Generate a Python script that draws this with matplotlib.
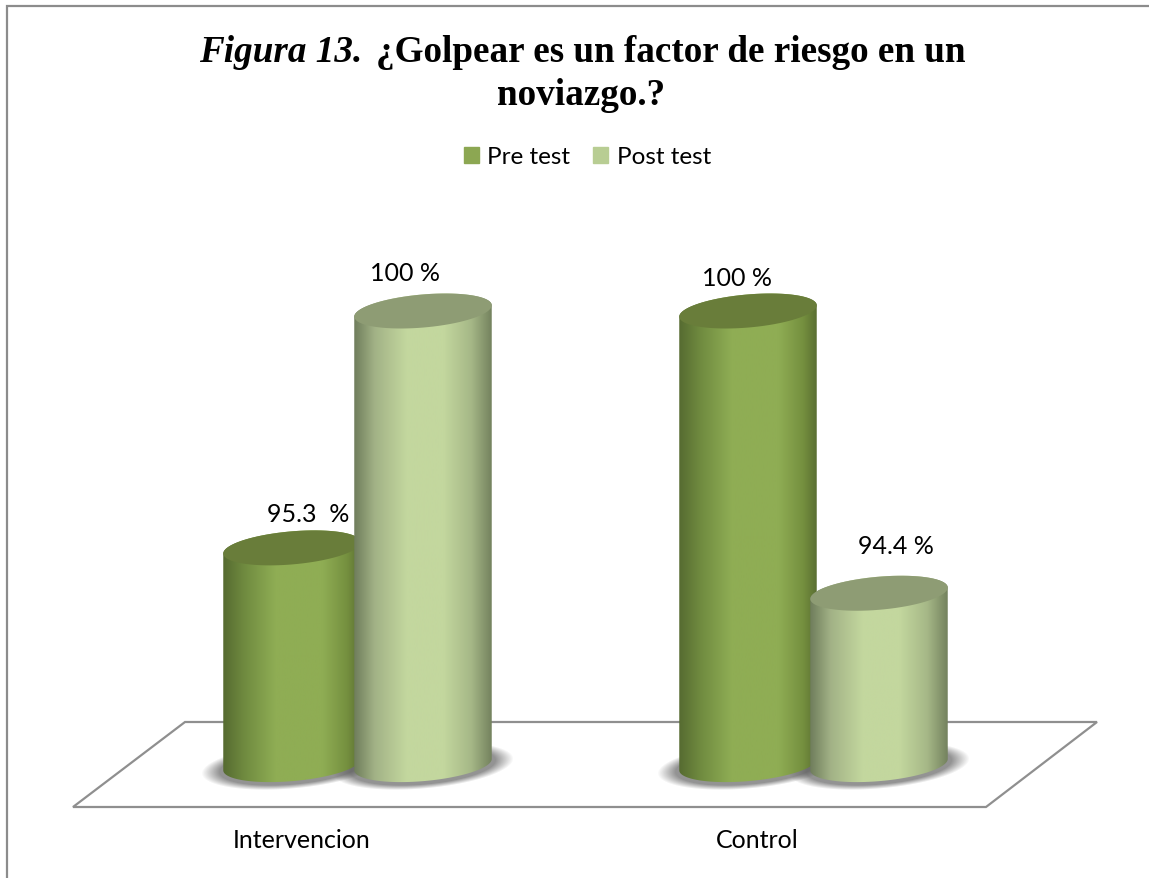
import numpy as np
import matplotlib
matplotlib.use("Agg")
import matplotlib.pyplot as plt
from matplotlib.colors import LinearSegmentedColormap
from matplotlib.patches import Patch, Polygon

# data
categories = ["Intervencion", "Control"]
series_names = ["Pre test", "Post test"]
pre_test = [95.3, 100]
post_test = [100, 94.4]
pre_labels = ["95.3  %", "100 %"]
post_labels = ["100 %", "94.4 %"]

# figure size and how values map on the canvas
W, H = 1149, 879
PX_PER_CAT = 456.0
PX_PER_VAL = 50.4
BASE = 91.0
BAR_W = 137 / PX_PER_CAT
OFFSET = 65.5 / PX_PER_CAT
ELL_A, ELL_B, TILT = 69.0, 16.5, np.radians(5)

# label offsets from the top of each bar, pixels (moved by hand in the original)
pre_off = [(16, 34), (-11, 33)]
post_off = [(-18, 38), (16.5, 48)]
CAT_SHIFT = -56 / PX_PER_CAT

pre_cmap = LinearSegmentedColormap.from_list("pre", [(0, "#566b31"), (0.15, "#6f8a3f"), (0.38, "#8fad54"),
                                                     (0.72, "#8fad54"), (0.9, "#75903f"), (1, "#5a6f32")])
post_cmap = LinearSegmentedColormap.from_list("post", [(0, "#6f7d5c"), (0.15, "#a2b286"), (0.38, "#c3d79e"),
                                                       (0.65, "#c3d79e"), (0.85, "#a6b887"), (1, "#74825e")])
PRE_TOP = "#697d3a"
POST_TOP = "#8e9c74"

plt.rcParams["font.family"] = ["Lato", "DejaVu Sans"]

fig = plt.figure(figsize=(W / 100, H / 100), dpi=100)
ax = fig.add_axes([0, 0, 1, 1])
ax.set_xlim(-357.5 / PX_PER_CAT, (W - 357.5) / PX_PER_CAT)
ax.set_ylim(100 - (H - 312) / PX_PER_VAL, 100 + 312 / PX_PER_VAL)
ax.axis("off")


def fx(px):
    return px / W


def fy(py):
    return 1 - py / H


# chart border, only top and left show in the crop
ax.plot([fx(7), fx(7), 1], [0, fy(6.5), fy(6.5)], transform=ax.transAxes, color="#8c8c8c", lw=1.6,
        solid_joinstyle="miter", zorder=0)

# floor
floor = [(73, 808), (185, 723), (1097, 723), (986, 808)]
ax.add_patch(Polygon([(fx(a), fy(b)) for a, b in floor], closed=True, transform=ax.transAxes,
                     fc="white", ec="#8f8f8f", lw=1.6, zorder=1))


def ellipse_pts(cx, val, n=80, t0=0, t1=2 * np.pi):
    # tilted ellipse, worked out in pixels then put back on the data scales
    t = np.linspace(t0, t1, n)
    dx = ELL_A * np.cos(t) * np.cos(TILT) - ELL_B * np.sin(t) * np.sin(TILT)
    dy = ELL_A * np.cos(t) * np.sin(TILT) + ELL_B * np.sin(t) * np.cos(TILT)
    return cx + dx / PX_PER_CAT, val + dy / PX_PER_VAL


def draw_shadow(cx, z):
    sx = np.linspace(cx - 100 / PX_PER_CAT, cx + 100 / PX_PER_CAT, 200)
    sy = np.linspace(BASE - 40 / PX_PER_VAL, BASE + 40 / PX_PER_VAL, 80)
    xx, yy = np.meshgrid((sx - cx) * PX_PER_CAT, (sy - BASE) * PX_PER_VAL)
    u = xx * np.cos(TILT) + yy * np.sin(TILT)
    v = -xx * np.sin(TILT) + yy * np.cos(TILT)
    rr = np.sqrt((u / 83) ** 2 + ((v + 1) / 21) ** 2)
    alpha = np.clip((1.1 - rr) / 0.22, 0, 1) * 0.66
    img = np.zeros(xx.shape + (4,))
    img[..., :3] = 0.36
    img[..., 3] = alpha
    ax.imshow(img, extent=(sx[0], sx[-1], sy[0], sy[-1]), origin="lower", aspect="auto", zorder=z,
              interpolation="bilinear")


def draw_cylinder(cx, val, cmap, top_color, z):
    # body outline: lower half of the base ellipse closes it, the top ellipse is painted over
    bx, by = ellipse_pts(cx, BASE, t0=np.pi, t1=2 * np.pi)
    tx, ty = ellipse_pts(cx, val, t0=0, t1=np.pi)
    verts = np.column_stack([np.r_[bx, tx], np.r_[by, ty]])
    clip = Polygon(verts, closed=True, transform=ax.transData, fc="none", ec="none")
    ax.add_patch(clip)
    grad = np.linspace(0, 1, 256).reshape(1, -1)
    x0, x1 = verts[:, 0].min(), verts[:, 0].max()
    im = ax.imshow(grad, cmap=cmap, extent=(x0, x1, BASE - 1, val + 1), aspect="auto", zorder=z)
    im.set_clip_path(clip)
    ex, ey = ellipse_pts(cx, val)
    ax.fill(ex, ey, color=top_color, lw=0, zorder=z + 0.1)


for i in range(len(categories)):
    draw_shadow(i - OFFSET, 2)
    draw_shadow(i + OFFSET, 2)
    draw_cylinder(i - OFFSET, pre_test[i], pre_cmap, PRE_TOP, 3)
    draw_cylinder(i + OFFSET, post_test[i], post_cmap, POST_TOP, 4)
    ax.annotate(pre_labels[i], (i - OFFSET, pre_test[i]), xytext=(pre_off[i][0], pre_off[i][1]),
                textcoords="offset pixels", ha="center", va="center", fontsize=18, color="black", zorder=6)
    ax.annotate(post_labels[i], (i + OFFSET, post_test[i]), xytext=(post_off[i][0], post_off[i][1]),
                textcoords="offset pixels", ha="center", va="center", fontsize=18, color="black", zorder=6)
    ax.text(i + CAT_SHIFT, fy(841), categories[i], transform=ax.get_xaxis_transform(), ha="center", va="center",
            fontsize=18, color="black")

# legend
handles = [Patch(color="#8ca752", label=series_names[0]), Patch(color="#b8cd93", label=series_names[1])]
ax.legend(handles=handles, ncol=2, frameon=False, fontsize=17.5, loc="center",
          bbox_to_anchor=(587.5 / W, fy(158)), handlelength=0.62, handleheight=0.62,
          handletextpad=0.35, columnspacing=0.95, borderpad=0)

# title, italic start then bold rest, centred together
tfont = ["Liberation Serif", "DejaVu Serif"]
TSIZE = 26.7
t1 = ax.text(0, fy(62), "Figura 13.", transform=ax.transAxes, family=tfont, style="italic",
             weight="bold", fontsize=TSIZE, va="baseline", ha="left")
t2 = ax.text(0, fy(62), "\u00bfGolpear es un factor de riesgo en un", transform=ax.transAxes, family=tfont,
             weight="bold", fontsize=TSIZE, va="baseline", ha="left")
fig.canvas.draw()
r = fig.canvas.get_renderer()
w1 = t1.get_window_extent(r).width + 14
w2 = t2.get_window_extent(r).width
start = 582.5 - (w1 + w2) / 2
t1.set_x(fx(start))
t2.set_x(fx(start + w1))
ax.text(fx(581), fy(105), "noviazgo.?", transform=ax.transAxes, family=tfont, weight="bold",
        fontsize=TSIZE, va="baseline", ha="center")

fig.savefig("out.png", dpi=100)
